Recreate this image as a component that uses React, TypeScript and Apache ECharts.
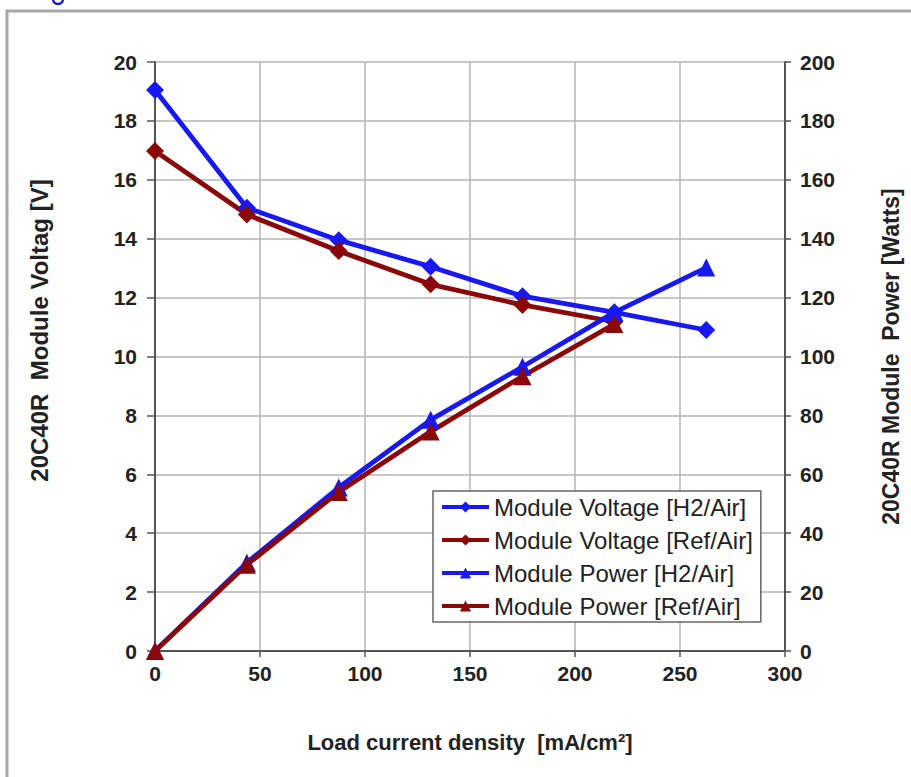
import React, { useEffect, useRef } from "react";
import * as echarts from "echarts";

const currentDensity = [0, 43.75, 87.5, 131.25, 175, 218.75, 262.5];
const voltageH2 = [19.05, 15.05, 13.95, 13.05, 12.05, 11.5, 10.9];
const voltageRef = [16.98, 14.82, 13.58, 12.45, 11.75, 11.18];
const powerH2 = [0, 30, 55.5, 78.5, 96.5, 115, 130.2];
const powerRef = [0, 29.3, 54, 74.5, 93.3, 111];

const seriesNames = [
  "Module Voltage [H2/Air]",
  "Module Voltage [Ref/Air]",
  "Module Power [H2/Air]",
  "Module Power [Ref/Air]",
];

const BLUE = "#1818f0";
const RED = "#8a0808";
const FONT = "'Liberation Sans', Arial, sans-serif";

const pairs = (ys: number[]) => ys.map((y, i) => [currentDensity[i], y]);

export default function App() {
  const ref = useRef<HTMLDivElement>(null);
  useEffect(() => {
    if (!ref.current) return;
    const chart = echarts.init(ref.current, undefined, { renderer: "svg" });
    const mk = (name: string, data: number[], color: string, symbol: string, yAxisIndex: number) => ({
      name,
      type: "line",
      yAxisIndex,
      data: pairs(data),
      symbol,
      symbolSize: 18,
      lineStyle: { color, width: 4.8 },
      itemStyle: { color },
      color,
    });
    chart.setOption({
      animation: false,
      backgroundColor: "#ffffff",
      textStyle: { fontFamily: FONT },
      graphic: [
        {
          type: "rect",
          shape: { x: 7, y: 11, width: 930, height: 800 },
          style: { fill: "none", stroke: "#a8a8a8", lineWidth: 3 },
          silent: true,
          z: -10,
        },
        {
          type: "arc",
          shape: { cx: 58, cy: -1, r: 5, startAngle: 0, endAngle: Math.PI },
          style: { fill: "none", stroke: "#1020c0", lineWidth: 2.5 },
          silent: true,
        },
      ],
      grid: { left: 155, right: 126, top: 62, bottom: 126 },
      legend: {
        orient: "vertical",
        left: 433,
        top: 491,
        padding: [3, 8, 3, 7],
        itemGap: 7,
        itemWidth: 47,
        itemHeight: 14,
        backgroundColor: "#ffffff",
        borderColor: "#666",
        borderWidth: 1.5,
        borderRadius: 0,
        lineStyle: { width: 4 },
        textStyle: { fontSize: 24, color: "#222", fontFamily: FONT, lineHeight: 26 },
        data: seriesNames,
      },
      xAxis: {
        type: "value",
        min: 0,
        max: 300,
        interval: 50,
        name: "Load current density  [mA/cm\u00b2]",
        nameLocation: "middle",
        nameGap: 80,
        nameTextStyle: { fontSize: 22, fontWeight: "bold", color: "#222", fontFamily: FONT },
        axisLine: { onZero: false, lineStyle: { color: "#555", width: 2 } },
        axisTick: { show: true, length: 6, inside: false, lineStyle: { color: "#555", width: 1.5 } },
        axisLabel: { fontSize: 21, fontWeight: "bold", color: "#222", margin: 12, fontFamily: FONT },
        splitLine: { show: true, lineStyle: { color: "#b4b4b4", width: 1.5 } },
      },
      yAxis: [
        {
          type: "value",
          min: 0,
          max: 20,
          interval: 2,
          position: "left",
          name: "20C40R  Module Voltag [V]",
          nameLocation: "middle",
          nameGap: 104,
          nameTextStyle: {
            fontSize: 24,
            fontWeight: "bold",
            color: "#222",
            fontFamily: FONT,
            padding: [0, 0, 0, 52],
          },
          axisLine: { show: true, onZero: false, lineStyle: { color: "#555", width: 2 } },
          axisTick: { show: true, length: 8, lineStyle: { color: "#555", width: 1.5 } },
          axisLabel: { fontSize: 21, fontWeight: "bold", color: "#222", margin: 18, fontFamily: FONT },
          splitLine: { show: true, lineStyle: { color: "#b4b4b4", width: 1.5 } },
        },
        {
          type: "value",
          min: 0,
          max: 200,
          interval: 20,
          position: "right",
          name: "20C40R Module  Power [Watts]",
          nameLocation: "middle",
          nameGap: 94,
          nameRotate: 90,
          nameTextStyle: { fontSize: 23, fontWeight: "bold", color: "#222", fontFamily: FONT },
          axisLine: { show: true, onZero: false, lineStyle: { color: "#555", width: 2 } },
          axisTick: { show: true, length: 6, lineStyle: { color: "#555", width: 1.5 } },
          axisLabel: { fontSize: 21, fontWeight: "bold", color: "#222", margin: 15, fontFamily: FONT },
          splitLine: { show: false },
        },
      ],
      series: [
        mk(seriesNames[0], voltageH2, BLUE, "diamond", 0),
        mk(seriesNames[1], voltageRef, RED, "diamond", 0),
        mk(seriesNames[2], powerH2, BLUE, "triangle", 1),
        mk(seriesNames[3], powerRef, RED, "triangle", 1),
      ],
    });
    return () => chart.dispose();
  }, []);
  return (
    <div
      ref={ref}
      style={{ position: "fixed", left: 0, top: 0, width: 911, height: 777, background: "#fff" }}
    />
  );
}
